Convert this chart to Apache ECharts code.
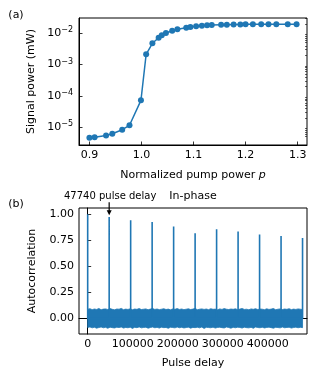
<!DOCTYPE html>
<html><head><meta charset="utf-8">
<script src="https://cdn.jsdelivr.net/npm/echarts@6/dist/echarts.min.js"></script>
<style>html,body{margin:0;padding:0;background:#fff}#c{width:319px;height:376px}</style>
</head><body><div id="c"></div>
<script>
// ---- Panel (a) data ----
const pumpP = [0.9,0.91,0.932,0.944,0.963,0.977,0.999,1.009,1.021,1.033,1.039,1.047,1.059,1.069,1.086,1.094,1.105,1.116,1.126,1.135,1.153,1.164,1.177,1.19,1.2,1.214,1.23,1.244,1.259,1.281,1.298];
const signalPower = [4.6e-6,4.8e-6,5.4e-6,6.2e-6,8.3e-6,1.15e-5,7.2e-5,2.14e-3,4.8e-3,7.2e-3,8.6e-3,1.02e-2,1.21e-2,1.34e-2,1.51e-2,1.59e-2,1.67e-2,1.75e-2,1.8e-2,1.84e-2,1.88e-2,1.88e-2,1.9e-2,1.92e-2,1.93e-2,1.93e-2,1.93e-2,1.93e-2,1.93e-2,1.93e-2,1.93e-2];
const aXTicks = [0.9,1.0,1.1,1.2,1.3];
const aYTicks = [1e-5,1e-4,1e-3,1e-2];
const aYMinor = [5e-6,6e-6,7e-6,8e-6,9e-6,2e-5,3e-5,4e-5,5e-5,6e-5,7e-5,8e-5,9e-5,2e-4,3e-4,4e-4,5e-4,6e-4,7e-4,8e-4,9e-4,2e-3,3e-3,4e-3,5e-3,6e-3,7e-3,8e-3,9e-3,2e-2,3e-2];

// ---- Panel (b) data ----
const peakDelay = [0,47740,95480,143220,190960,238700,286440,334180,381920,429660,477400];
const peakAuto = [1.0,0.974,0.943,0.926,0.882,0.818,0.856,0.834,0.805,0.792,0.773];
const noiseEnd = 477400;
const noiseUpper = [0.088,0.093,0.084,0.09,0.086,0.095,0.083,0.089,0.091,0.085,
0.094,0.087,0.082,0.09,0.088,0.096,0.084,0.089,0.086,0.092,
0.083,0.09,0.087,0.094,0.085,0.088,0.091,0.083,0.089,0.095,
0.086,0.09,0.084,0.088,0.093,0.085,0.089,0.082,0.091,0.087,
0.094,0.086,0.09,0.084,0.088,0.092,0.085,0.089,0.096,0.083,
0.088,0.091,0.086,0.09,0.084,0.093,0.087,0.089,0.082,0.091,
0.086,0.094,0.088,0.085,0.09,0.087,0.092,0.084,0.089,0.095,
0.086,0.088,0.083,0.091,0.087,0.093,0.085,0.09,0.088,0.084,
0.092,0.086,0.089,0.095,0.083,0.088,0.091,0.085,0.09,0.087,
0.093,0.084,0.089,0.086,0.091,0.088,0.085];
const noiseLower = [-0.087,-0.082,-0.091,-0.085,-0.094,-0.088,-0.083,-0.09,-0.086,-0.095,
-0.084,-0.089,-0.092,-0.085,-0.088,-0.083,-0.093,-0.087,-0.09,-0.084,
-0.096,-0.086,-0.089,-0.082,-0.091,-0.087,-0.085,-0.094,-0.088,-0.083,
-0.09,-0.086,-0.093,-0.084,-0.089,-0.087,-0.095,-0.085,-0.088,-0.091,
-0.083,-0.09,-0.086,-0.092,-0.088,-0.084,-0.094,-0.087,-0.089,-0.085,
-0.091,-0.083,-0.096,-0.086,-0.088,-0.09,-0.084,-0.093,-0.087,-0.085,
-0.089,-0.092,-0.083,-0.088,-0.094,-0.086,-0.09,-0.085,-0.087,-0.093,
-0.084,-0.089,-0.091,-0.086,-0.095,-0.083,-0.088,-0.09,-0.085,-0.092,
-0.087,-0.084,-0.089,-0.094,-0.086,-0.088,-0.091,-0.083,-0.09,-0.087,
-0.085,-0.093,-0.088,-0.084,-0.09,-0.086,-0.089];
const bXTicks = [0,100000,200000,300000,400000];
const bYTicks = [0,0.25,0.5,0.75,1.0];

const FONT = 'DejaVu Sans';
const C = '#1f77b4';
const chart = echarts.init(document.getElementById('c'), null, {renderer:'canvas'});

const lineData = pumpP.map((p,i)=>[p, signalPower[i]]);
const peakData = [];
peakDelay.forEach((d,i)=>{ peakData.push([d,0]); peakData.push([d,peakAuto[i]]); peakData.push([d,0]); });
const nStep = noiseEnd/(noiseUpper.length-1);

function baseAxis(extra){
  return Object.assign({
    axisLine:{show:true,lineStyle:{color:'#000',width:1}},
    axisTick:{show:true,inside:true,length:3.5,lineStyle:{color:'#000',width:0.8}},
    axisLabel:{color:'#000',fontFamily:FONT,fontSize:11},
    splitLine:{show:false},
    nameTextStyle:{color:'#000',fontFamily:FONT,fontSize:11}
  }, extra);
}

const option = {
  animation:false,
  grid:[
    {left:79, top:18, width:228, height:127, show:true, borderColor:'#000', borderWidth:1},
    {left:79, top:208, width:228, height:126, show:true, borderColor:'#000', borderWidth:1}
  ],
  xAxis:[
    baseAxis({type:'value', gridIndex:0, min:0.880, max:1.318,
      axisTick:{show:true,inside:true,length:3.5,customValues:aXTicks,lineStyle:{color:'#000',width:0.8}},
      axisLabel:{color:'#000',fontFamily:FONT,fontSize:11,margin:5,customValues:aXTicks,formatter:v=>v.toFixed(1)},
      name:'Normalized pump power {i|p}', nameLocation:'middle', nameGap:25,
      nameTextStyle:{color:'#000',fontFamily:FONT,fontSize:11,rich:{i:{fontStyle:'italic',fontFamily:FONT,fontSize:11,color:'#000'}}}}),
    baseAxis({type:'value', gridIndex:1, min:-19300, max:487300,
      axisTick:{show:true,inside:true,length:3.5,customValues:bXTicks,lineStyle:{color:'#000',width:0.8}},
      axisLabel:{color:'#000',fontFamily:FONT,fontSize:11,margin:5,customValues:bXTicks,formatter:v=>String(Math.round(v))},
      name:'Pulse delay', nameLocation:'middle', nameGap:24})
  ],
  yAxis:[
    baseAxis({type:'log', gridIndex:0, logBase:10, min:Math.pow(10,-5.569), max:Math.pow(10,-1.511),
      axisTick:{show:true,inside:true,length:3.5,customValues:aYTicks,lineStyle:{color:'#000',width:0.8}},
      axisLabel:{color:'#000',fontFamily:FONT,fontSize:11,margin:6,customValues:aYTicks,
        formatter:v=>{const e=Math.round(Math.log10(v));return '{b|10}{s|−'+Math.abs(e)+'}';},
        rich:{b:{fontFamily:FONT,fontSize:11,color:'#000'},s:{fontFamily:FONT,fontSize:8,color:'#000',verticalAlign:'top',padding:[0,0,6,0]}}},
      name:'Signal power (mW)', nameLocation:'middle', nameGap:40}),
    baseAxis({type:'log', gridIndex:0, logBase:10, min:Math.pow(10,-5.569), max:Math.pow(10,-1.511),
      axisLine:{show:false},
      axisTick:{show:true,inside:true,length:2,customValues:aYMinor,lineStyle:{color:'#000',width:0.6}},
      axisLabel:{show:false,customValues:aYMinor}}),
    baseAxis({type:'value', gridIndex:1, min:-0.15, max:1.06,
      axisTick:{show:true,inside:true,length:3.5,customValues:bYTicks,lineStyle:{color:'#000',width:0.8}},
      axisLabel:{color:'#000',fontFamily:FONT,fontSize:11,margin:5,customValues:bYTicks,formatter:v=>v.toFixed(2)},
      name:'Autocorrelation', nameLocation:'middle', nameGap:41})
  ],
  series:[
    {type:'line', xAxisIndex:0, yAxisIndex:0, data:lineData, symbol:'circle', symbolSize:6,
      itemStyle:{color:C}, lineStyle:{color:C,width:1.5}},
    {type:'custom', xAxisIndex:1, yAxisIndex:2, data:[[0,0]], clip:true,
      renderItem:(params, api)=>{
        const pts=[];
        for(let i=0;i<noiseUpper.length;i++) pts.push(api.coord([i*nStep, noiseUpper[i]]));
        for(let i=noiseLower.length-1;i>=0;i--) pts.push(api.coord([i*nStep, noiseLower[i]]));
        return {type:'polygon', shape:{points:pts}, style:{fill:C, stroke:C, lineWidth:0.8}};
      }},
    {type:'line', xAxisIndex:1, yAxisIndex:2, data:peakData, symbol:'none',
      lineStyle:{color:C,width:1.6}}
  ]
};
chart.setOption(option);

// annotation arrow + text, placed via the axis scale
const tip = chart.convertToPixel({xAxisIndex:1, yAxisIndex:2}, [peakDelay[1], 0.99]);
chart.setOption({graphic:[
  {type:'text', x:193, y:196, style:{text:'In-phase', font:'11px "DejaVu Sans"', fill:'#000', textAlign:'center', textVerticalAlign:'middle'}},
  {type:'text', x:16, y:15, style:{text:'(a)', font:'11px "DejaVu Sans"', fill:'#000', textAlign:'center', textVerticalAlign:'middle'}},
  {type:'text', x:16, y:204, style:{text:'(b)', font:'11px "DejaVu Sans"', fill:'#000', textAlign:'center', textVerticalAlign:'middle'}},
  {type:'text', x:tip[0]+1, y:tip[1]-19, style:{text:'47740 pulse delay', font:'10px "DejaVu Sans"', fill:'#000', textAlign:'center', textVerticalAlign:'middle'}},
  {type:'line', shape:{x1:tip[0], y1:tip[1]-13, x2:tip[0], y2:tip[1]-4}, style:{stroke:'#000', lineWidth:1.2}},
  {type:'polygon', shape:{points:[[tip[0]-2.5,tip[1]-5],[tip[0]+2.5,tip[1]-5],[tip[0],tip[1]]]}, style:{fill:'#000'}}
]});
</script></body></html>
